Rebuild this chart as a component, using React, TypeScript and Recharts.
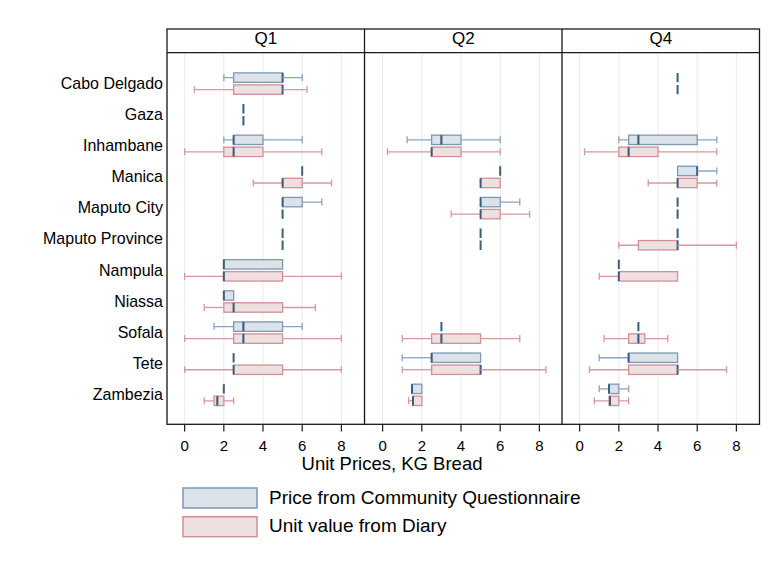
import React from 'react'
import { ComposedChart, Bar, XAxis, YAxis, CartesianGrid } from 'recharts'

const provinces = [
  'Cabo Delgado',
  'Gaza',
  'Inhambane',
  'Manica',
  'Maputo City',
  'Maputo Province',
  'Nampula',
  'Niassa',
  'Sofala',
  'Tete',
  'Zambezia',
]
const quarters = ['Q1', 'Q2', 'Q4']
const xTicks = [0, 2, 4, 6, 8]

// [lower whisker, p25, median, p75, upper whisker], null = no data
type Box = number[] | null

const communityQ1: Box[] = [
  [2, 2.5, 5, 5, 6],
  [3, 3, 3, 3, 3],
  [2, 2.5, 2.5, 4, 6],
  [6, 6, 6, 6, 6],
  [5, 5, 5, 6, 7],
  [5, 5, 5, 5, 5],
  [2, 2, 2, 5, 5],
  [2, 2, 2, 2.5, 2.5],
  [1.5, 2.5, 3, 5, 6],
  [2.5, 2.5, 2.5, 2.5, 2.5],
  [2, 2, 2, 2, 2],
]
const diaryQ1: Box[] = [
  [0.5, 2.5, 5, 5, 6.25],
  [3, 3, 3, 3, 3],
  [0, 2, 2.5, 4, 7],
  [3.5, 5, 5, 6, 7.5],
  [5, 5, 5, 5, 5],
  [5, 5, 5, 5, 5],
  [0, 2, 2, 5, 8],
  [1, 2, 2.5, 5, 6.67],
  [0, 2.5, 3, 5, 8],
  [0, 2.5, 2.5, 5, 8],
  [1, 1.5, 1.67, 2, 2.5],
]
const communityQ2: Box[] = [
  null,
  null,
  [1.25, 2.5, 3, 4, 6],
  [6, 6, 6, 6, 6],
  [5, 5, 5, 6, 7],
  [5, 5, 5, 5, 5],
  null,
  null,
  [3, 3, 3, 3, 3],
  [1, 2.5, 2.5, 5, 5],
  [1.5, 1.5, 1.5, 2, 2],
]
const diaryQ2: Box[] = [
  null,
  null,
  [0.25, 2.5, 2.5, 4, 6],
  [5, 5, 5, 6, 6],
  [3.5, 5, 5, 6, 7.5],
  [5, 5, 5, 5, 5],
  null,
  null,
  [1, 2.5, 3, 5, 7],
  [1, 2.5, 5, 5, 8.33],
  [1.33, 1.55, 1.55, 2, 2],
]
const communityQ4: Box[] = [
  [5, 5, 5, 5, 5],
  null,
  [2, 2.5, 3, 6, 7],
  [5, 5, 6, 6, 7],
  [5, 5, 5, 5, 5],
  [5, 5, 5, 5, 5],
  [2, 2, 2, 2, 2],
  null,
  [3, 3, 3, 3, 3],
  [1, 2.5, 2.5, 5, 5],
  [1, 1.5, 1.5, 2, 2.5],
]
const diaryQ4: Box[] = [
  [5, 5, 5, 5, 5],
  null,
  [0.25, 2, 2.5, 4, 7],
  [3.5, 5, 5, 6, 7],
  [5, 5, 5, 5, 5],
  [2, 3, 5, 5, 8],
  [1, 2, 2, 5, 5],
  null,
  [1.25, 2.5, 3, 3.33, 4.5],
  [0.5, 2.5, 5, 5, 7.5],
  [0.75, 1.5, 1.55, 2, 2.5],
]

const seriesNames = ['Price from Community Questionnaire', 'Unit value from Diary']

const FONT = 'Arial, "Liberation Sans", Helvetica, sans-serif'
const COLORS: Record<string, { fill: string; stroke: string; whisker: string }> = {
  c: { fill: '#dbe2ea', stroke: '#7e99b4', whisker: '#8ca4bd' },
  d: { fill: '#eedfe0', stroke: '#cf9195', whisker: '#d49a9e' },
}
const MEDIAN = '#3d5d7c'
const FRAME = '#1a1a1a'

// frame geometry
const FRAME_TOP = 29
const HEAD_BOTTOM = 52.7
const PLOT_BOTTOM = 424.3
const PANEL_X = [167, 364.5, 562, 759.5]
const Y_AXIS_W = 167
const X_AXIS_H = 40

const PARTS = ['Base', 'W1', 'B1', 'B2', 'W2']

function buildRows(comm: Box[], diary: Box[]) {
  return provinces.map((p, i) => {
    const row: Record<string, any> = { province: p }
    const add = (key: string, b: Box) => {
      const v = b ?? [0, 0, 0, 0, 0]
      row[key + 'Has'] = b != null
      row[key + 'Base'] = v[0]
      row[key + 'W1'] = v[1] - v[0]
      row[key + 'B1'] = v[2] - v[1]
      row[key + 'B2'] = v[3] - v[2]
      row[key + 'W2'] = v[4] - v[3]
    }
    add('c', comm[i])
    add('d', diary[i])
    return row
  })
}

const panels = [
  buildRows(communityQ1, diaryQ1),
  buildRows(communityQ2, diaryQ2),
  buildRows(communityQ4, diaryQ4),
]

function partShape(series: string, part: string, rows: Record<string, any>[]) {
  return (props: any) => {
    const { x, y, width, height, index } = props
    const row = props.payload ?? rows[index]
    if (!row || !row[series + 'Has'] || part === 'Base') return <g />
    const col = COLORS[series]
    const cy = y + height / 2
    const top = y + 0.3
    const h = height - 0.6
    if (part === 'W1') {
      if (!(width > 0)) return <g />
      return (
        <g>
          <line x1={x} x2={x + width} y1={cy} y2={cy} stroke={col.whisker} strokeWidth={1.3} />
          <line x1={x} x2={x} y1={cy - 3.5} y2={cy + 3.5} stroke={col.whisker} strokeWidth={1.3} />
        </g>
      )
    }
    if (part === 'W2') {
      if (!(width > 0)) return <g />
      return (
        <g>
          <line x1={x} x2={x + width} y1={cy} y2={cy} stroke={col.whisker} strokeWidth={1.3} />
          <line x1={x + width} x2={x + width} y1={cy - 3.5} y2={cy + 3.5} stroke={col.whisker} strokeWidth={1.3} />
        </g>
      )
    }
    if (part === 'B1') {
      if (!(width > 0)) return <g />
      return <rect x={x} y={top} width={width} height={h} fill={col.fill} stroke={col.stroke} strokeWidth={1.3} />
    }
    // B2: upper half of the box, the median sits on its left edge
    return (
      <g>
        {width > 0 && (
          <rect x={x} y={top} width={width} height={h} fill={col.fill} stroke={col.stroke} strokeWidth={1.3} />
        )}
        <line x1={x} x2={x} y1={top} y2={top + h} stroke={MEDIAN} strokeWidth={2} />
      </g>
    )
  }
}

function Panel({ rows, showY }: { rows: Record<string, any>[]; showY: boolean }) {
  const plotW = PANEL_X[1] - PANEL_X[0]
  const width = showY ? Y_AXIS_W + plotW : plotW
  return (
    <ComposedChart
      width={width}
      height={PLOT_BOTTOM - HEAD_BOTTOM + X_AXIS_H}
      data={rows}
      layout="vertical"
      margin={{ top: 0, right: 0, bottom: 0, left: 0 }}
      barGap={2}
    >
      <CartesianGrid horizontal={false} stroke="#e3ecef" strokeWidth={1} />
      <XAxis
        type="number"
        domain={[-0.9, 9.18]}
        ticks={xTicks}
        interval={0}
        allowDataOverflow
        axisLine={false}
        tickLine={{ stroke: FRAME, strokeWidth: 1.2 }}
        tickSize={7}
        tickMargin={8.4}
        tick={{ fill: '#000', fontSize: 15 }}
        height={X_AXIS_H}
      />
      <YAxis
        type="category"
        dataKey="province"
        width={showY ? Y_AXIS_W : 0}
        hide={!showY}
        padding={{ top: 14.6, bottom: 14.6 }}
        axisLine={false}
        tickLine={false}
        tickSize={0}
        tickMargin={4}
        interval={0}
        tick={{ fill: '#000', fontSize: 16 }}
      />
      {PARTS.map((p) => (
        <Bar
          key={'c' + p}
          dataKey={'c' + p}
          stackId="c"
          barSize={10}
          isAnimationActive={false}
          shape={partShape('c', p, rows)}
        />
      ))}
      {PARTS.map((p) => (
        <Bar
          key={'d' + p}
          dataKey={'d' + p}
          stackId="d"
          barSize={10}
          isAnimationActive={false}
          shape={partShape('d', p, rows)}
        />
      ))}
    </ComposedChart>
  )
}

export default function App() {
  return (
    <div
      style={{
        position: 'absolute',
        left: 0,
        top: 0,
        width: 775,
        height: 567,
        background: '#fff',
        fontFamily: FONT,
      }}
    >
      {panels.map((rows, i) => (
        <div
          key={quarters[i]}
          style={{ position: 'absolute', top: HEAD_BOTTOM, left: i === 0 ? 0 : PANEL_X[i] }}
        >
          <Panel rows={rows} showY={i === 0} />
        </div>
      ))}
      <svg
        width={775}
        height={567}
        style={{ position: 'absolute', left: 0, top: 0, pointerEvents: 'none', fontFamily: FONT }}
      >
        <rect
          x={PANEL_X[0]}
          y={FRAME_TOP}
          width={PANEL_X[3] - PANEL_X[0]}
          height={PLOT_BOTTOM - FRAME_TOP}
          fill="none"
          stroke={FRAME}
          strokeWidth={1.3}
        />
        <line x1={PANEL_X[0]} x2={PANEL_X[3]} y1={HEAD_BOTTOM} y2={HEAD_BOTTOM} stroke={FRAME} strokeWidth={1.3} />
        {[PANEL_X[1], PANEL_X[2]].map((x) => (
          <line key={x} x1={x} x2={x} y1={FRAME_TOP} y2={PLOT_BOTTOM} stroke={FRAME} strokeWidth={1.3} />
        ))}
        {quarters.map((q, i) => (
          <text key={q} x={(PANEL_X[i] + PANEL_X[i + 1]) / 2} y={44.3} textAnchor="middle" fontSize={17} fill="#000">
            {q}
          </text>
        ))}
        <text x={392} y={470} textAnchor="middle" fontSize={18.5} fill="#000">
          Unit Prices, KG Bread
        </text>
        {seriesNames.map((name, i) => {
          const col = COLORS[i === 0 ? 'c' : 'd']
          const y = 488 + i * 28.7
          return (
            <g key={name}>
              <rect x={183} y={y} width={74} height={20} fill={col.fill} stroke={col.stroke} strokeWidth={1.5} />
              <text x={269} y={y + 15.5} fontSize={19} fill="#000">
                {name}
              </text>
            </g>
          )
        })}
      </svg>
    </div>
  )
}
